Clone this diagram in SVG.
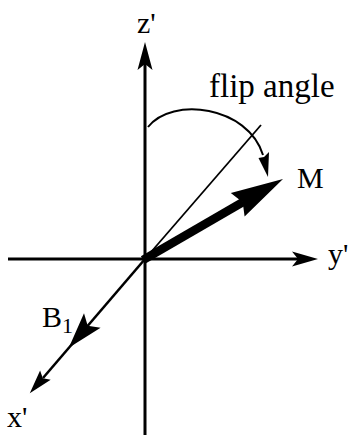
<svg xmlns="http://www.w3.org/2000/svg" width="348" height="435" viewBox="0 0 348 435">
<style>
.lbl{font-family:"Liberation Serif","Times New Roman",serif;font-size:30px;fill:#000;font-variant-ligatures:none}
.ax{stroke:#000;stroke-width:3;fill:none}
.head{fill:#000;stroke:none}
</style>
<rect width="348" height="435" fill="#fff"/>
<g id="connectors">
<line class="ax" x1="145" y1="64" x2="145" y2="435"/>
<polygon class="head" points="145,42 152.5,70 145,64 137.5,70"/>
<line class="ax" x1="8" y1="259" x2="300" y2="259"/>
<polygon class="head" points="318,259 292,266.5 298,259 292,251.5"/>
<line x1="261" y1="125" x2="145" y2="259" stroke="#000" stroke-width="1.8"/>
<line x1="145" y1="259" x2="43" y2="378" stroke="#000" stroke-width="2.6"/>
<polygon class="head" points="68.8,347.8 100.6,327.7 87.7,325.8 84,313.3"/>
<polygon class="head" points="29.8,393.3 50.7,379.7 42.8,378.2 40.1,370.5"/>
<line x1="143" y1="260" x2="243" y2="202" stroke="#000" stroke-width="8.5"/>
<polygon class="head" points="283,179 244.6,216.6 242.7,202.3 230.8,193"/>
<path d="M148,127 C172,96 248,106 263,155" stroke="#000" stroke-width="2" fill="none"/>
<polygon class="head" points="268,177 269,152 264,157 258.5,158"/>
</g>
<g id="z-axis-label"><text class="lbl" x="137" y="33">z'</text></g>
<g id="y-axis-label"><text class="lbl" x="328" y="264">y'</text></g>
<g id="x-axis-label"><text class="lbl" x="7" y="427">x'</text></g>
<g id="flip-angle-label"><text class="lbl" x="209" y="97" font-size="33" style="font-size:33px">flip angle</text></g>
<g id="M-label"><text class="lbl" x="297" y="188">M</text></g>
<g id="B1-label"><text class="lbl" x="42" y="327">B</text><text class="lbl" x="62" y="333" style="font-size:22px">1</text></g>
</svg>
